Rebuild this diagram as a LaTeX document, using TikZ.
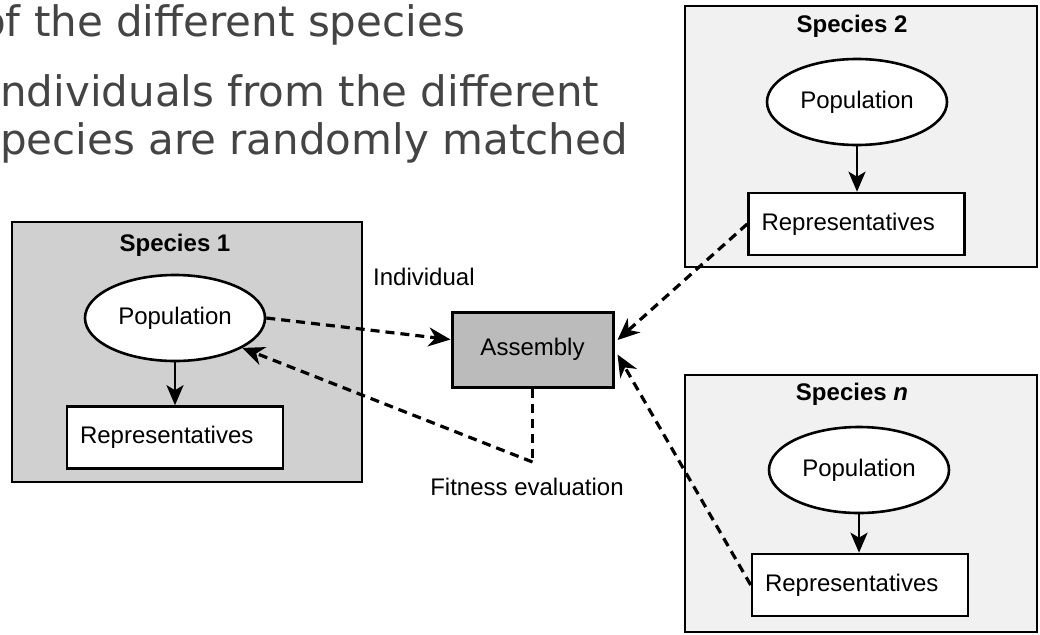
\documentclass[tikz,border=0pt]{standalone}
\usepackage{fontspec}
\setmainfont{Liberation Sans}
\newfontfamily\slidefont{DejaVu Sans}
\usetikzlibrary{arrows.meta,shapes.geometric}
\definecolor{slidetext}{HTML}{444444}
\definecolor{sponefill}{HTML}{D0D0D0}
\definecolor{sptwofill}{HTML}{F1F1F1}
\definecolor{asmfill}{HTML}{BBBBBB}
\tikzset{
 spbox/.style={draw=black, line width=2.8pt, rectangle, inner sep=0pt},
 popnode/.style={draw=black, fill=white, ellipse, line width=2.6pt, minimum width=180pt, minimum height=86pt, inner sep=0pt, font=\fontsize{24}{28}\selectfont},
 repnode/.style={draw=black, fill=white, rectangle, line width=2.6pt, minimum width=216pt, minimum height=62pt, inner sep=0pt, font=\fontsize{24}{28}\selectfont, text width=190pt, align=left},
 asmnode/.style={draw=black, fill=asmfill, rectangle, line width=3pt, minimum width=161pt, minimum height=75pt, inner sep=0pt, font=\fontsize{24}{28}\selectfont},
 sptitle/.style={font=\bfseries\fontsize{24}{28}\selectfont, anchor=base, inner sep=0pt},
 lbl/.style={font=\fontsize{24}{28}\selectfont, inner sep=0pt, anchor=base},
 solidarrow/.style={line width=2.6pt, -{Stealth[length=20pt,width=17pt,inset=5pt]}},
 dasharrow/.style={line width=3.2pt, dash pattern=on 9pt off 6pt, -{Stealth[length=22pt,width=19pt,inset=7pt]}},
 dashline/.style={line width=3.2pt, dash pattern=on 9pt off 6pt},
 slide/.style={font=\slidefont\fontsize{42}{50}\selectfont, text=slidetext, anchor=base west, inner sep=0pt},
}
\begin{document}
\begin{tikzpicture}[x=1pt,y=-1pt]
\useasboundingbox (0,0) rectangle (1040,634);
\fill[white] (0,0) rectangle (1040,634);

% slide text (left part cut off by the picture edge)
\begin{scope}
\clip (0,0) rectangle (1040,634);
\node[slide] (l1) at (-20,37) {of the different species};
\node[slide] (l2) at (-12.4,106) {Individuals from the different};
\node[slide] (l3) at (-22,154) {species are randomly matched};
\end{scope}

% species containers
\node[spbox, fill=sponefill, minimum width=350pt, minimum height=260pt] (sp1) at (187,352) {};
\node[spbox, fill=sptwofill, minimum width=352pt, minimum height=261pt] (sp2) at (861,136.5) {};
\node[spbox, fill=sptwofill, minimum width=352pt, minimum height=257pt] (spn) at (861,503.5) {};

\node[sptitle] (t1) at (175,251.5) {Species 1};
\node[sptitle] (t2) at (852,33) {Species 2};
\node[sptitle] (tn) at (852,400) {Species \textit{n}};

% species 1
\node[popnode] (pop1) at (175,318) {Population};
\node[repnode] (rep1) at (175,437.5) {Representatives};
\draw[solidarrow] (pop1.south) -- (rep1.north);

% species 2
\node[popnode] (pop2) at (857,102) {Population};
\node[repnode] (rep2) at (856.5,224) {Representatives};
\draw[solidarrow] (pop2.south) -- (pop2.south |- rep2.north);

% species n
\node[popnode] (popn) at (859,470) {Population};
\node[repnode] (repn) at (860,585) {Representatives};
\draw[solidarrow] (popn.south) -- (popn.south |- repn.north);

% assembly
\node[asmnode] (asm) at (532.5,349.5) {Assembly};

\node[lbl, anchor=base west] (ind) at (373,285) {Individual};
\node[lbl] (fit) at (527,495) {Fitness evaluation};

\coordinate (fe) at (532.5,462);

\draw[dasharrow] (pop1.east) -- ([yshift=10pt]asm.west);
\draw[dashline] (asm.south) -- (fe);
\draw[dasharrow] (fe) -- (pop1.-24);
\draw[dasharrow] (rep2.west) -- ([yshift=9.5pt,xshift=3pt]asm.east);
\draw[dasharrow] (repn.west) -- ([yshift=-5pt,xshift=3pt]asm.east);
\end{tikzpicture}
\end{document}
